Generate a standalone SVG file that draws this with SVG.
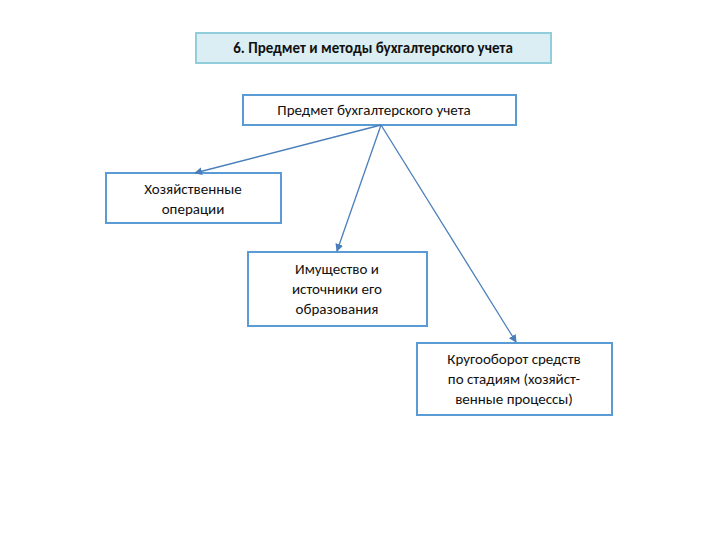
<svg xmlns="http://www.w3.org/2000/svg" width="720" height="540" viewBox="0 0 720 540">
<style>
.b{fill:#fff;stroke:#5b9bd5;stroke-width:2}
.t{font-family:Calibri,"Liberation Sans",sans-serif;font-size:15px;fill:#111;text-anchor:middle}
.c{stroke:#4a7ebb;stroke-width:1.3;fill:none;marker-end:url(#a)}
</style>
<defs><marker id="a" markerWidth="8" markerHeight="8" refX="7" refY="4" orient="auto" markerUnits="userSpaceOnUse"><path d="M0,0 L8,4 L0,8 Z" fill="#4a7ebb"/></marker></defs>
<rect width="720" height="540" fill="#fff"/>
<g id="title"><rect x="196" y="33" width="355" height="30" fill="#daeef3" stroke="#92cddc" stroke-width="2"/><text class="t" x="373" y="53" font-weight="bold">6. Предмет и методы бухгалтерского учета</text></g>
<g id="subject"><rect class="b" x="243" y="95" width="273" height="30"/><text class="t" x="374" y="115">Предмет бухгалтерского учета</text></g>
<g id="ops"><rect class="b" x="106" y="173" width="175" height="50"/><text class="t" x="193" y="194">Хозяйственные</text><text class="t" x="193" y="214">операции</text></g>
<g id="assets"><rect class="b" x="248" y="252" width="179" height="74"/><text class="t" x="337" y="274">Имущество и</text><text class="t" x="337" y="294">источники его</text><text class="t" x="337" y="314">образования</text></g>
<g id="cycle"><rect class="b" x="417" y="343" width="195" height="72"/><text class="t" x="514" y="364">Кругооборот средств</text><text class="t" x="514" y="384">по стадиям (хозяйст-</text><text class="t" x="514" y="404">венные процессы)</text></g>
<g id="connectors">
<line class="c" x1="381" y1="125" x2="195" y2="173"/>
<line class="c" x1="381" y1="125" x2="337" y2="251"/>
<line class="c" x1="381" y1="125" x2="516" y2="342"/>
</g>
</svg>
